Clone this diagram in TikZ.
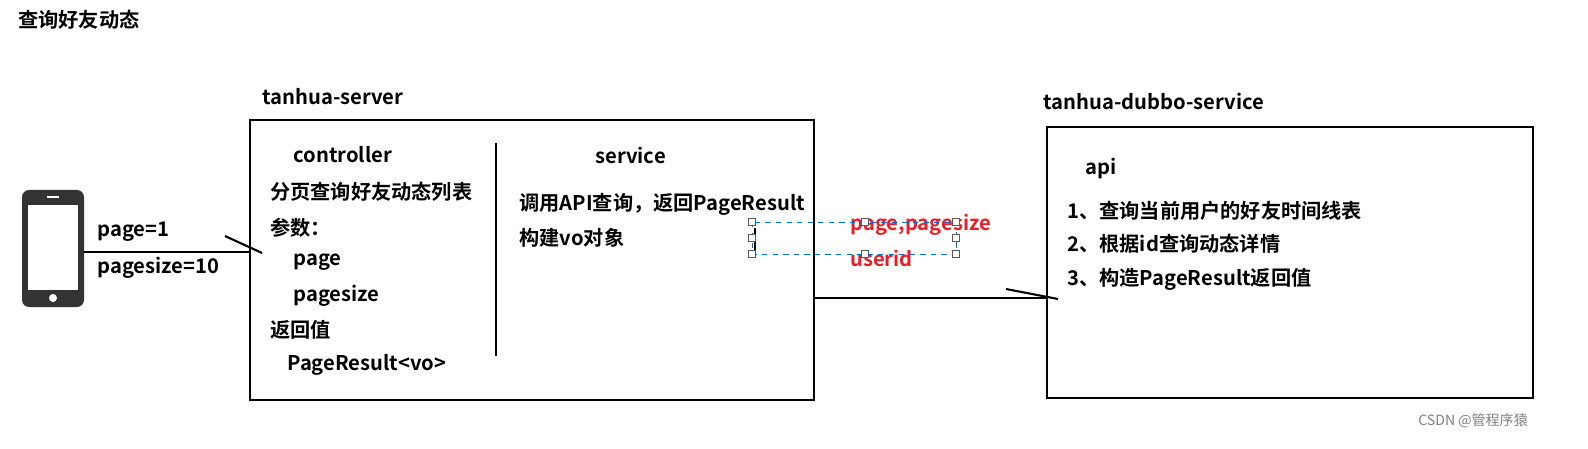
\documentclass[tikz,border=0pt]{standalone}
\usepackage{fontspec}
\setmainfont{Noto Sans CJK SC Bold}
\newfontfamily\plainfont{Noto Sans CJK SC}
\usetikzlibrary{positioning}
\tikzset{
lbl/.style={anchor=west, inner sep=0pt, font=\fontsize{11.5}{13}\selectfont},
redlbl/.style={lbl, text={rgb,255:red,235;green,30;blue,40}},
frame/.style={draw, line width=1.4pt},
handle/.style={draw=gray!70!black, fill=white, minimum size=4pt, inner sep=0pt, line width=0.5pt}
}
\begin{document}
\begin{tikzpicture}[x=0.02cm, y=-0.02cm]
    \node[lbl] (title) at (18,20) {查询好友动态};

    % phone
    \fill[black!80, rounded corners=4pt] (22,190) rectangle (84,307);
    \fill[white] (28,205) rectangle (78,290);
    \fill[white] (53,298) circle (4);
    \draw[white, line width=1pt] (47,197) -- (59,197);
    \coordinate (phone) at (84,252);

    % server
    \draw[frame] (250,120) rectangle (814,400);
    \coordinate (serverin) at (250,252);
    \node[lbl] (server) at (262,97) {tanhua-server};
    \node[lbl] (ctrl) at (293,155) {controller};
    \node[lbl] (c1) at (270,192) {分页查询好友动态列表};
    \node[lbl] (c2) at (270,228) {参数：};
    \node[lbl] (c3) at (293,262) {page};
    \node[lbl] (c4) at (293,296) {pagesize};
    \node[lbl] (c5) at (270,330) {返回值};
    \node[lbl] (c6) at (287,365) {PageResult<vo>};
    \draw[line width=1.4pt] (496,143) -- (496,356);
    \node[lbl] (svc) at (595,155) {service};
    \node[lbl] (s1) at (519,204) {调用API查询，返回PageResult};
    \node[lbl] (s2) at (519,238) {构建vo对象};

    % dubbo
    \draw[frame] (1047,127) rectangle (1533,398);
    \coordinate (dubboin) at (1047,298);
    \coordinate (serverout) at (814,298);
    \node[lbl] (dubbo) at (1043,101) {tanhua-dubbo-service};
    \node[lbl] (api) at (1085,168) {api};
    \node[lbl] (a1) at (1067,211) {1、查询当前用户的好友时间线表};
    \node[lbl] (a2) at (1067,244) {2、根据id查询动态详情};
    \node[lbl] (a3) at (1067,279) {3、构造PageResult返回值};

    % connectors
    \draw[line width=1.4pt] (phone) -- (serverin);
    \draw[line width=1.2pt] (225,236) -- (262,253);
    \node[lbl] (p1) at (97,232) {page=1};
    \node[lbl] (p2) at (97,268) {pagesize=10};
    \draw[line width=1.4pt] (serverout) -- (dubboin);
    \draw[line width=1.2pt] (1006,289) -- (1058,299);

    % params
    \draw[line width=0.8pt] (755,228) -- (755,250);
    \node[redlbl] (r1) at (850,225) {page,pagesize};
    \node[redlbl] (r2) at (850,258) {userid};
    \draw[dashed, draw={rgb,255:red,0;green,112;blue,192}, line width=0.5pt] (752,222) rectangle (956,254);
    \foreach \hx/\hy in {752/222,865/222,956/222,752/238,956/238,752/254,865/254,956/254}
        \node[handle] at (\hx,\hy) {};

    \node[lbl, font=\plainfont\fontsize{8}{10}\selectfont, text=gray] (mark) at (1418,421) {CSDN @管程序猿};

    \pgfresetboundingbox
    \useasboundingbox (0,0) rectangle (1588,449);
\end{tikzpicture}
\end{document}
